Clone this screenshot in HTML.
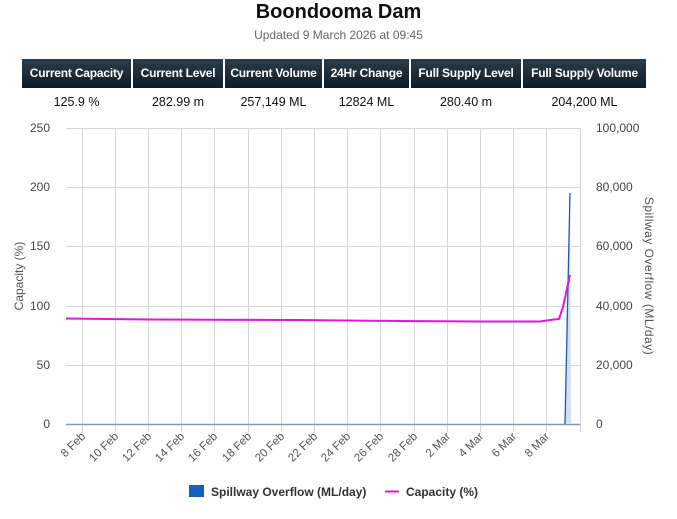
<!DOCTYPE html>
<html><head><meta charset="utf-8"><style>
body{margin:0;width:677px;height:519px;background:#fff;font-family:"Liberation Sans",Arial,sans-serif;position:relative;overflow:hidden}
.h{position:absolute;top:59px;height:29px;background:linear-gradient(#2c3e4c,#0f1c26);color:#fff;font-weight:bold;font-size:12px;line-height:29px;text-align:center;letter-spacing:-0.2px}
.v{position:absolute;top:95px;font-size:12.5px;color:#111;text-align:center}
</style></head><body>
<div style="position:absolute;top:1px;width:677px;text-align:center;font-size:20px;font-weight:bold;color:#111">Boondooma Dam</div>
<div style="position:absolute;top:28px;width:677px;text-align:center;font-size:12px;color:#666">Updated 9 March 2026 at 09:45</div>
<div class="h" style="left:22px;width:109px">Current Capacity</div>
<div class="h" style="left:133px;width:90px">Current Level</div>
<div class="h" style="left:225px;width:97px">Current Volume</div>
<div class="h" style="left:324px;width:85px">24Hr Change</div>
<div class="h" style="left:411px;width:110px">Full Supply Level</div>
<div class="h" style="left:523px;width:123px">Full Supply Volume</div>
<div class="v" style="left:22px;width:109px">125.9 %</div>
<div class="v" style="left:133px;width:90px">282.99 m</div>
<div class="v" style="left:225px;width:97px">257,149 ML</div>
<div class="v" style="left:324px;width:85px">12824 ML</div>
<div class="v" style="left:411px;width:110px">280.40 m</div>
<div class="v" style="left:523px;width:123px">204,200 ML</div>
<svg width="677" height="519" style="position:absolute;left:0;top:0" font-family="Liberation Sans,Arial,sans-serif">
<g stroke="#d6d6d6" stroke-width="1">
<line x1="66" y1="128.5" x2="580" y2="128.5"/><line x1="66" y1="187.5" x2="580" y2="187.5"/><line x1="66" y1="246.5" x2="580" y2="246.5"/><line x1="66" y1="306.5" x2="580" y2="306.5"/><line x1="66" y1="365.5" x2="580" y2="365.5"/>
<line x1="82.5" y1="128" x2="82.5" y2="432"/><line x1="115.5" y1="128" x2="115.5" y2="432"/><line x1="148.5" y1="128" x2="148.5" y2="432"/><line x1="181.5" y1="128" x2="181.5" y2="432"/><line x1="214.5" y1="128" x2="214.5" y2="432"/><line x1="248.5" y1="128" x2="248.5" y2="432"/><line x1="281.5" y1="128" x2="281.5" y2="432"/><line x1="314.5" y1="128" x2="314.5" y2="432"/><line x1="347.5" y1="128" x2="347.5" y2="432"/><line x1="380.5" y1="128" x2="380.5" y2="432"/><line x1="414.5" y1="128" x2="414.5" y2="432"/><line x1="447.5" y1="128" x2="447.5" y2="432"/><line x1="480.5" y1="128" x2="480.5" y2="432"/><line x1="513.5" y1="128" x2="513.5" y2="432"/><line x1="546.5" y1="128" x2="546.5" y2="432"/><line x1="580.5" y1="128" x2="580.5" y2="432"/>
</g>
<line x1="66" y1="424.5" x2="580" y2="424.5" stroke="#7b9bc0" stroke-width="1.5"/>
<polygon points="565,424 570,193 571,424" fill="#cfe0f5"/>
<polyline points="565,424 570,193" fill="none" stroke="#1f5aa6" stroke-width="1.3"/>
<polyline points="66,318.5 150,319.5 300,320 400,321 480,321.5 540,321.5 550,320 559,319 563,307 570,275" fill="none" stroke="#e016e0" stroke-width="2"/>
<g font-size="12" fill="#444" text-anchor="end">
<text x="50" y="132">250</text><text x="50" y="191">200</text><text x="50" y="250">150</text><text x="50" y="310">100</text><text x="50" y="369">50</text><text x="50" y="428">0</text>
</g>
<g font-size="12" fill="#444" text-anchor="start">
<text x="596" y="132">100,000</text><text x="596" y="191">80,000</text><text x="596" y="250">60,000</text><text x="596" y="310">40,000</text><text x="596" y="369">20,000</text><text x="596" y="428">0</text>
</g>
<text transform="translate(23,276) rotate(-90)" font-size="12" fill="#555" text-anchor="middle">Capacity (%)</text>
<text transform="translate(645,276) rotate(90)" font-size="12" fill="#555" text-anchor="middle" letter-spacing="0.5">Spillway Overflow (ML/day)</text>
<g font-size="11.5" fill="#555" text-anchor="end">
<text transform="translate(86,437) rotate(-45)">8 Feb</text>
<text transform="translate(119,437) rotate(-45)">10 Feb</text>
<text transform="translate(152,437) rotate(-45)">12 Feb</text>
<text transform="translate(185,437) rotate(-45)">14 Feb</text>
<text transform="translate(218,437) rotate(-45)">16 Feb</text>
<text transform="translate(252,437) rotate(-45)">18 Feb</text>
<text transform="translate(285,437) rotate(-45)">20 Feb</text>
<text transform="translate(318,437) rotate(-45)">22 Feb</text>
<text transform="translate(351,437) rotate(-45)">24 Feb</text>
<text transform="translate(384,437) rotate(-45)">26 Feb</text>
<text transform="translate(418,437) rotate(-45)">28 Feb</text>
<text transform="translate(451,437) rotate(-45)">2 Mar</text>
<text transform="translate(484,437) rotate(-45)">4 Mar</text>
<text transform="translate(517,437) rotate(-45)">6 Mar</text>
<text transform="translate(550,437) rotate(-45)">8 Mar</text>
</g>
<rect x="189" y="485" width="15" height="12" fill="#1560bd"/>
<text x="211" y="496" font-size="12" font-weight="bold" fill="#333">Spillway Overflow (ML/day)</text>
<line x1="385" y1="491.5" x2="399" y2="491.5" stroke="#e016e0" stroke-width="2"/>
<text x="406" y="496" font-size="12" font-weight="bold" fill="#333">Capacity (%)</text>
</svg>
</body></html>
